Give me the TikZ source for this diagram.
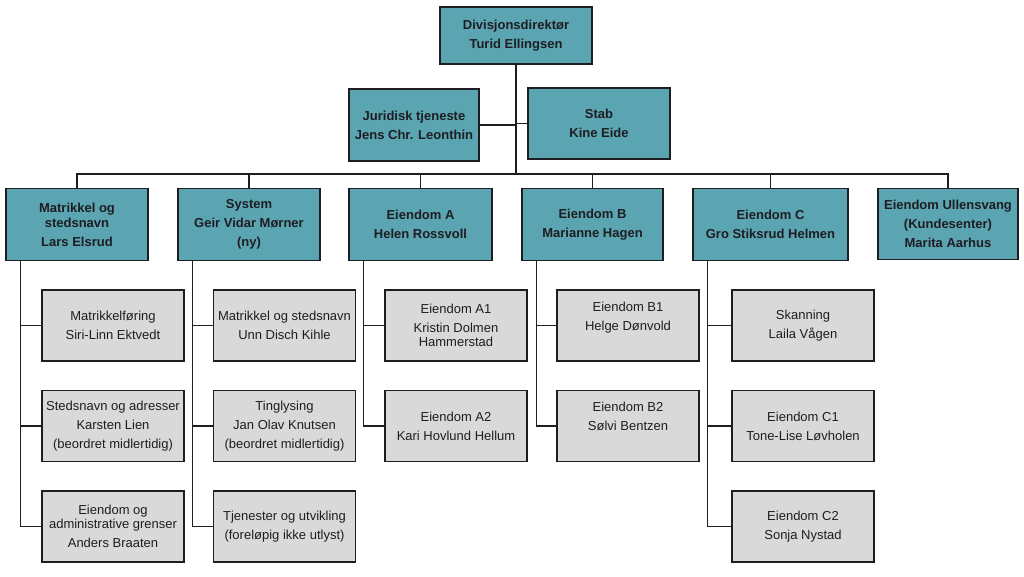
\documentclass[tikz,border=0pt]{standalone}
\usepackage{fontspec}
\setmainfont{Liberation Sans}
\usetikzlibrary{positioning,calc}
\definecolor{orgteal}{RGB}{91,164,177}
\definecolor{orggray}{RGB}{217,217,217}
\definecolor{orgline}{RGB}{30,30,34}

\begin{document}
\begin{tikzpicture}[x=1pt,y=-1pt]
\tikzset{unit/.style={draw=orgline,line width=1.4pt,fill=orgteal,text=orgline,align=center,
font=\fontsize{13}{19}\selectfont\bfseries,inner sep=0pt,minimum height=72pt,minimum width=142pt}}
\tikzset{section/.style={draw=orgline,line width=1.4pt,fill=orggray,text=orgline,align=center,
font=\fontsize{13}{19}\selectfont,inner sep=0pt,minimum height=71pt,minimum width=142pt}}
\tikzset{link/.style={draw=orgline,line width=1.4pt}}
\useasboundingbox (0,0) rectangle (1024,576);
\node[unit,minimum width=152pt,minimum height=57pt] (dir) at (516,35.5) {Divisjonsdirektør\\Turid Ellingsen};
\node[unit,minimum width=130pt] (jur) at (414,125) {Juridisk tjeneste\\Jens Chr. Leonthin};
\node[unit,minimum height=71pt] (stab) at (599,123.5) {Stab\\Kine Eide};
\node[unit] (mat) at (77,224.5) {Matrikkel og\\[-4pt]stedsnavn\\Lars Elsrud};
\node[unit] (sys) at (249,224.5) {System\\Geir Vidar Mørner\\(ny)};
\node[unit,minimum width=143pt] (eia) at (420.5,224.5) {Eiendom A\\Helen Rossvoll};
\node[unit,minimum width=141pt] (eib) at (592.5,224.5) {Eiendom B\\Marianne Hagen};
\node[unit,minimum width=155pt] (eic) at (770.5,224.5) {Eiendom C\\Gro Stiksrud Helmen};
\node[unit,minimum width=140pt,minimum height=71pt] (ull) at (948,224) {Eiendom Ullensvang\\(Kundesenter)\\Marita Aarhus};
\node[section] (m1) at (113,325.5) {Matrikkelføring\\Siri-Linn Ektvedt};
\node[section] (m2) at (113,426) {Stedsnavn og adresser\\Karsten Lien\\(beordret midlertidig)};
\node[section] (m3) at (113,526.5) {Eiendom og\\[-5pt]administrative grenser\\Anders Braaten};
\node[section] (s1) at (284.5,325.5) {Matrikkel og stedsnavn\\Unn Disch Kihle};
\node[section] (s2) at (284.5,426) {Tinglysing\\Jan Olav Knutsen\\(beordret midlertidig)};
\node[section] (s3) at (284.5,526.5) {Tjenester og utvikling\\(foreløpig ikke utlyst)};
\node[section] (a1) at (456,325.5) {Eiendom A1\\Kristin Dolmen\\[-5pt]Hammerstad};
\node[section] (a2) at (456,426) {Eiendom A2\\Kari Hovlund Hellum};
\node[section] (b1) at (628,325.5) {Eiendom B1\\Helge Dønvold\\\mbox{}};
\node[section] (b2) at (628,426) {Eiendom B2\\Sølvi Bentzen\\\mbox{}};
\node[section] (c0) at (803,325.5) {Skanning\\Laila Vågen};
\node[section] (c1) at (803,426) {Eiendom C1\\Tone-Lise Løvholen};
\node[section] (c2) at (803,526.5) {Eiendom C2\\Sonja Nystad};
\coordinate (bus) at (516,174);
\draw[link] (dir.south) -- (bus);
\draw[link] (jur.east) -- (jur.east -| bus);
\draw[link] (stab.west) -- (stab.west -| bus);
\foreach \u in {mat,sys,eia,eib,eic,ull}
  \draw[link] (bus) -| (\u.north);
\foreach \u/\s in {mat/m1,mat/m2,mat/m3,sys/s1,sys/s2,sys/s3,eia/a1,eia/a2,eib/b1,eib/b2,eic/c0,eic/c1,eic/c2}
  \draw[link] ([xshift=15pt]\u.south west) |- (\s.west);
\end{tikzpicture}
\end{document}
